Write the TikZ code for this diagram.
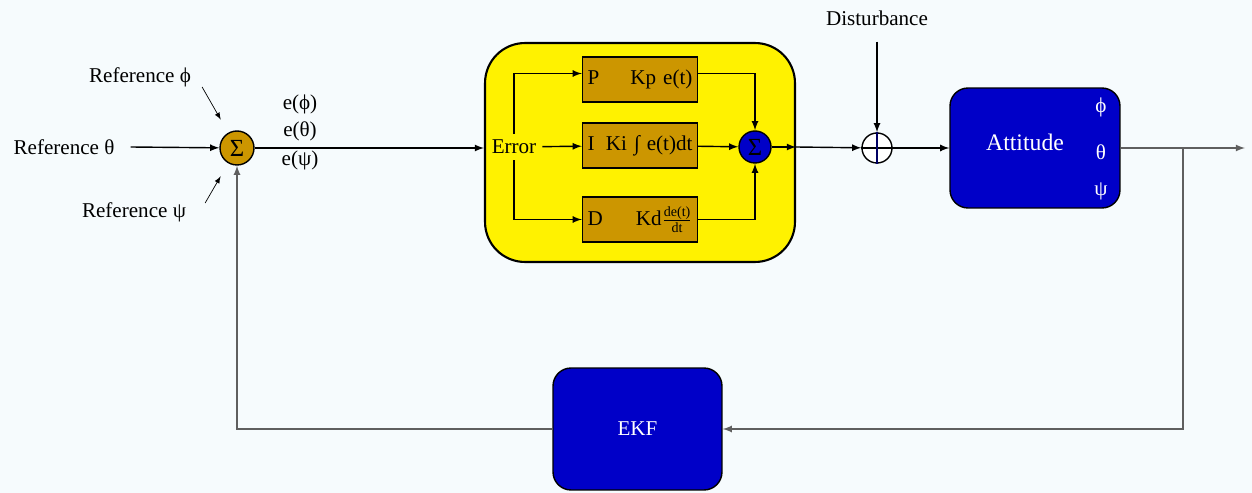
\documentclass[tikz,border=0pt]{standalone}
\usepackage{fontspec}
\setmainfont{Liberation Serif}
\definecolor{sumgold}{RGB}{204,150,0}
\definecolor{plantblue}{RGB}{0,0,200}
\definecolor{bgwhite}{RGB}{246,251,253}
\definecolor{linegray}{RGB}{95,95,95}

\begin{document}
\begin{tikzpicture}[x=0.02cm,y=-0.02cm,>=latex,font=\fontsize{12}{14}\selectfont,
  sumnode/.style={circle,draw,thick,inner sep=0pt,minimum size=0.68cm},
  gainbox/.style={draw,thick,fill=sumgold,text width=2.1cm,inner xsep=0.1cm,minimum height=0.9cm},
  bluebox/.style={draw,thick,fill=plantblue,rounded corners=0.36cm,text=white}]

 \fill[bgwhite] (0,0) rectangle (1252,493) ;
 \useasboundingbox (0,0) rectangle (1252,493) ;

 % references and first summing point
 \node[sumnode,fill=sumgold,font=\fontsize{14}{16}\selectfont] (sum1) at (237,148) {Σ} ;
 \node (refphi) at (140,77) {Reference ϕ} ;
 \node (reftheta) at (64,147) {Reference θ} ;
 \node (refpsi) at (134,212) {Reference ψ} ;
 \draw[->,shorten >=0.3cm] ([shift={(5,10)}]refphi.east) -- (sum1) ;
 \draw[thick,->] ([xshift=0.2cm]reftheta.east) -- (sum1) ;
 \draw[->,shorten >=0.3cm] ([shift={(13,-9)}]refpsi.east) -- (sum1) ;

 \node (ephi) at (300,104) {e(ϕ)} ;
 \node (etheta) at (300,131) {e(θ)} ;
 \node (epsi) at (300,160) {e(ψ)} ;

 % PID block
 \node[draw,very thick,fill=yellow,rounded corners=0.8cm,minimum width=6.2cm,minimum height=4.38cm] (pid) at (640,152.5) {} ;
 \node (err) at (514,147) {Error} ;
 \node[gainbox] (pbox) at (640,79.5) {P\hfill Kp e(t)} ;
 \node[gainbox] (ibox) at (640,145.5) {I\hfill Ki ∫ e(t)dt} ;
 \node[gainbox] (dbox) at (640,219.5) {D\hfill Kd$\frac{\mbox{\footnotesize de(t)}}{\mbox{\footnotesize dt}}$} ;
 \node[sumnode,fill=plantblue,minimum size=0.64cm,font=\fontsize{14}{16}\selectfont] (sum2) at (755,147) {Σ} ;

 \draw[thick,->] (err.north) |- ([yshift=0.12cm]pbox.west) ;
 \draw[thick,->] (err) -- (ibox) ;
 \draw[thick,->] (err.south) |- (dbox) ;
 \draw[thick,->] ([yshift=0.12cm]pbox.east) -| (sum2) ;
 \draw[thick,->] (ibox) -- (sum2) ;
 \draw[thick,->] (dbox) -| (sum2) ;

 \draw[thick,->] (sum1) -- (sum1 -| pid.west) ;
 \draw[thick,->] (sum2) -- (sum2 -| pid.east) ;

 % disturbance and plant
 \node[circle,draw,thick,fill=white,minimum size=0.6cm] (dsum) at (877,148) {} ;
 \draw[thick] (dsum.west) -- (dsum.east) ;
 \draw[very thick,plantblue!50!black] (dsum.north) -- (dsum.south) ;
 \node (dist) at (877,18) {Disturbance} ;
 \draw[thick,->,shorten <=0.2cm] (dist.south) -- (dsum) ;
 \draw[thick,->] (sum2 -| pid.east) -- (dsum) ;

 \node[bluebox,minimum width=3.4cm,minimum height=2.4cm] (att) at (1035,148) {} ;
 \node[text=white,font=\fontsize{13.5}{15}\selectfont] (attlbl) at (1025,142) {Attitude} ;
 \node[text=white] (attphi) at (1101,107) {ϕ} ;
 \node[text=white] (atttheta) at (1101,152) {θ} ;
 \node[text=white] (attpsi) at (1101,191) {ψ} ;
 \draw[thick,->] (dsum) -- (att) ;

 % output and feedback
 \coordinate (branch) at (1183,148) ;
 \coordinate (out) at (1245,148) ;
 \draw[thick,linegray,->] (att.east) -- (out) ;

 \node[bluebox,minimum width=3.38cm,minimum height=2.44cm] (ekf) at (637.5,429) {EKF} ;
 \draw[thick,linegray,->] (branch) |- (ekf) ;
 \draw[thick,linegray,->] (ekf) -| (sum1) ;

\end{tikzpicture}
\end{document}
